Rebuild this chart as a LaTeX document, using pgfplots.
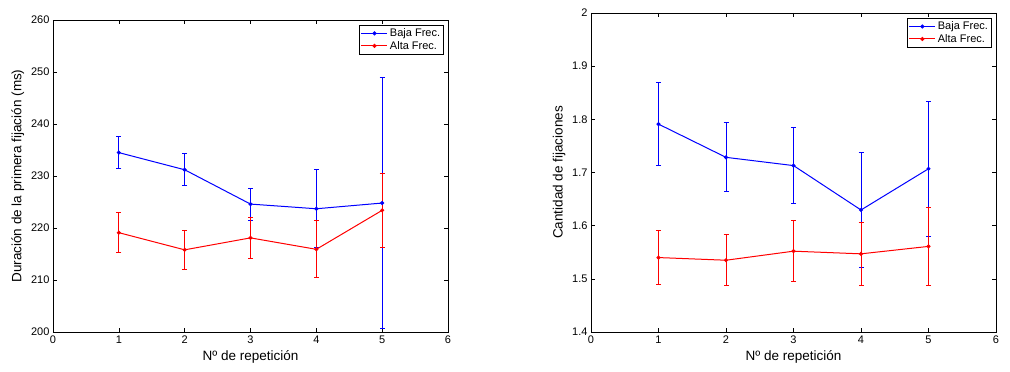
\documentclass[border=0pt]{standalone}
\usepackage{pgfplots}
\pgfplotsset{compat=1.18}
\usepackage{fontspec}
\setmainfont{Liberation Sans}
\begin{document}
\begin{tikzpicture}
\useasboundingbox (0pt,0pt) rectangle (1010pt,372pt);
\pgfplotsset{
  mstyle/.style={
    scale only axis,
    xmin=0, xmax=6, xtick={0,...,6},
    tick align=inside, major tick length=4pt,
    axis line style={line width=0.8pt},
    tick style={line width=0.5pt, black},
    ticklabel style={font=\fontsize{11}{13}\selectfont},
    /pgf/number format/assume math mode=true,
    label style={font=\fontsize{13.5}{16}\selectfont},
    legend style={font=\fontsize{11}{13}\selectfont, at={(0.99,0.985)}, anchor=north east, draw=black, line width=0.9pt, inner sep=1.5pt, row sep=-1pt, cells={anchor=west}},
    legend image code/.code={\draw[mark repeat=2,mark phase=2] plot coordinates {(0pt,0pt) (13pt,0pt) (26pt,0pt)};},
    error bars/error bar style={line width=0.9pt},
    error bars/error mark options={rotate=90, mark size=2.5pt, line width=0.9pt},
  },
  blu/.style={color={rgb,1:red,0;green,0;blue,1}, line width=1pt, mark=*, mark size=1.5pt, error bars/.cd, y dir=both, y explicit},
  rd/.style={color={rgb,1:red,1;green,0;blue,0}, line width=1pt, mark=*, mark size=1.5pt, error bars/.cd, y dir=both, y explicit},
}
\begin{axis}[mstyle, at={(53pt,40pt)}, anchor=south west, width=395pt, height=312pt,
  ymin=200, ymax=260, ytick={200,210,...,260},
  xlabel={Nº de repetición}, ylabel={Duración de la primera fijación (ms)}]
\addplot+[blu] coordinates {(1,234.5) +- (0,3.1) (2,231.2) +- (0,3.05) (3,224.6) +- (0,3.1) (4,223.7) +- (0,7.5) (5,224.8) +- (0,24.2)};
\addlegendentry{Baja Frec.}
\addplot+[rd] coordinates {(1,219.1) +- (0,3.85) (2,215.8) +- (0,3.8) (3,218.1) +- (0,3.95) (4,215.9) +- (0,5.5) (5,223.4) +- (0,7.1)};
\addlegendentry{Alta Frec.}
\end{axis}
\begin{axis}[mstyle, at={(591pt,40pt)}, anchor=south west, width=405pt, height=319pt,
  ymin=1.4, ymax=2, ytick={1.4,1.5,...,2.0},
  yticklabel style={/pgf/number format/.cd, fixed, precision=1},
  xlabel={Nº de repetición}, ylabel={Cantidad de fijaciones}]
\addplot+[blu] coordinates {(1,1.791) +- (0,0.078) (2,1.7285) +- (0,0.065) (3,1.713) +- (0,0.072) (4,1.6295) +- (0,0.108) (5,1.707) +- (0,0.127)};
\addlegendentry{Baja Frec.}
\addplot+[rd] coordinates {(1,1.540) +- (0,0.051) (2,1.535) +- (0,0.048) (3,1.552) +- (0,0.057) (4,1.547) +- (0,0.059) (5,1.561) +- (0,0.074)};
\addlegendentry{Alta Frec.}
\end{axis}
\end{tikzpicture}
\end{document}
